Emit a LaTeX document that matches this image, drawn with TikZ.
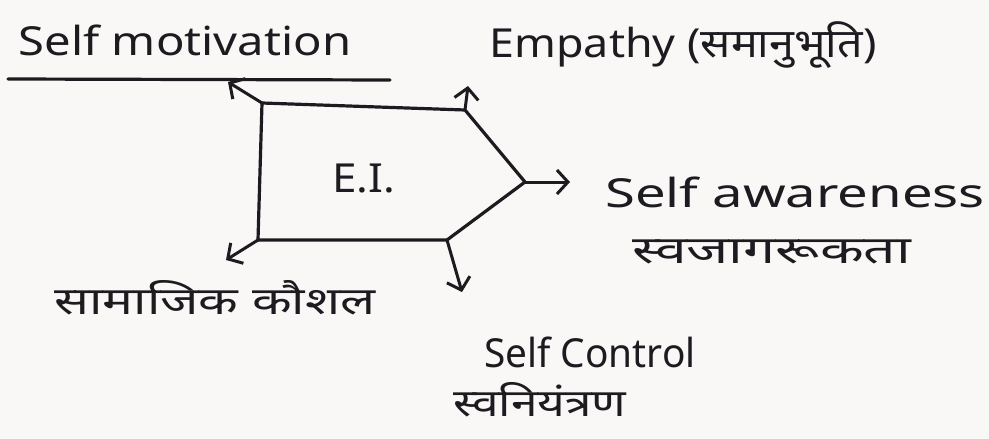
\documentclass[tikz,border=0pt]{standalone}
\usepackage{fontspec}
\usepackage{graphicx}
\setmainfont{Noto Sans}
\newfontfamily\devfont[Script=Devanagari]{Noto Sans}
\usetikzlibrary{arrows.meta}
\definecolor{paper}{RGB}{250,247,247}
\definecolor{ink}{RGB}{28,28,32}
\tikzset{
  lbl/.style={text=ink, inner sep=0pt, font=\fontsize{40}{44}\selectfont},
  devlbl/.style={text=ink, inner sep=0pt, font=\devfont\fontsize{38}{42}\selectfont},
  shapeline/.style={draw=ink, line width=3.2pt, line join=round, line cap=round},
  arr/.style={draw=ink, line width=3pt, line cap=round, -{Straight Barb[length=11pt,width=24pt,line width=3pt]}}
}
\begin{document}
\begin{tikzpicture}[x=1pt,y=-1pt]
\fill[paper] (0,0) rectangle (989,439);
\useasboundingbox (0,0) rectangle (989,439);
% pentagon corners
\coordinate (tl) at (262,103);
\coordinate (tr) at (465,110);
\coordinate (tip) at (525,182);
\coordinate (br) at (447,240);
\coordinate (bl) at (258,240);
\draw[shapeline] (tl) -- (tr) -- (tip) -- (br) -- (bl) -- cycle;
% labels
\node[lbl] (mot) at (185,40) {\scalebox{1.18}[1]{Self motivation}};
\coordinate (ulA) at (8,79);
\coordinate (ulB) at (390,80);
\draw[shapeline] (ulA) -- (ulB);
\node[lbl] (emp) at (683,45) {\scalebox{1.12}[1]{Empathy ({\devfont समानुभूति})}};
\node[lbl] (ei) at (364,178) {\scalebox{1.1}[1]{E.I.}};
\node[lbl] (aw) at (795,192) {\scalebox{1.36}[1]{Self awareness}};
\node[devlbl] (awh) at (772,252) {\scalebox{1.5}[1]{स्वजागरूकता}};
\node[devlbl] (soc) at (215,298) {\scalebox{1.36}[1]{सामाजिक कौशल}};
\node[lbl] (sc) at (590,352) {\scalebox{0.97}[1]{Self Control}};
\node[devlbl] (sch) at (540,400) {\scalebox{1.26}[1]{स्वनियंत्रण}};
% arrow ends
\coordinate (e1) at (228,82);
\coordinate (e2) at (468,86);
\coordinate (e3) at (570,182);
\coordinate (e4) at (462,292);
\coordinate (e5) at (226,260);
\draw[arr] (tl) -- (e1);
\draw[arr] (tr) -- (e2);
\draw[arr] (tip) -- (e3);
\draw[arr] (br) -- (e4);
\draw[arr] (bl) -- (e5);
\end{tikzpicture}
\end{document}
